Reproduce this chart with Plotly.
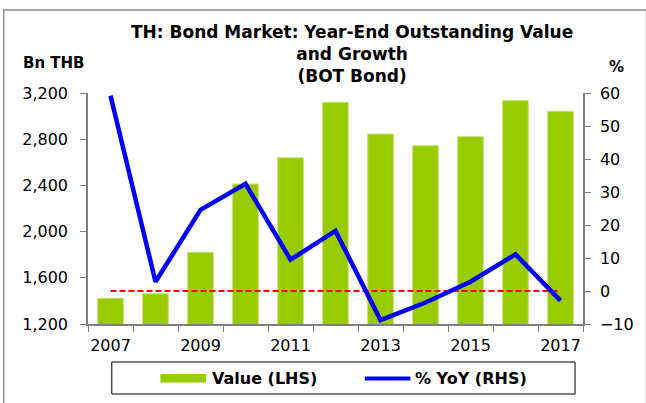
import plotly.graph_objects as go

# Year-end outstanding BOT bonds (Bn THB) and year-on-year growth (%)
years = [2007, 2008, 2009, 2010, 2011, 2012, 2013, 2014, 2015, 2016, 2017]
value_bn_thb = [1423, 1462, 1821, 2412, 2640, 3120, 2845, 2744, 2822, 3134, 3042]
yoy_pct = [59.2, 2.8, 24.6, 32.5, 9.5, 18.2, -8.8, -3.5, 2.8, 11.1, -2.9]
x_tick_labels = ["2007", "2009", "2011", "2013", "2015", "2017"]
left_ticks = [1200, 1600, 2000, 2400, 2800, 3200]
right_ticks = [-10, 0, 10, 20, 30, 40, 50, 60]

W, H = 646, 403
L, R, T, B = 88, 587, 93, 324  # plot area in pixels

def px(x):
    return (x - L) / (R - L)

def py(y):
    return (B - y) / (B - T)

FONT = "DejaVu Sans, Liberation Sans, Arial, sans-serif"
GREEN = "#99CC00"
BLUE = "#0000FF"
AXIS = "#7F7F7F"

fig = go.Figure()

fig.add_trace(go.Bar(
    x=years, y=value_bn_thb, name="Value (LHS)",
    marker=dict(color=GREEN, line=dict(color="#C8E27A", width=1)),
    width=0.57, yaxis="y", showlegend=False,
))

fig.add_trace(go.Scatter(
    x=[years[0], years[-1]], y=[0, 0], mode="lines",
    line=dict(color="#FF0000", width=2, dash="6px,3px"),
    yaxis="y2", showlegend=False, hoverinfo="skip",
))

fig.add_trace(go.Scatter(
    x=years, y=yoy_pct, name="% YoY (RHS)", mode="lines",
    line=dict(color=BLUE, width=4.5),
    yaxis="y2", showlegend=False,
))

fig.update_layout(
    width=W, height=H,
    margin=dict(l=L, r=W - R, t=T, b=H - B),
    paper_bgcolor="white", plot_bgcolor="white",
    font=dict(family=FONT, size=16, color="black"),
    xaxis=dict(
        range=[2006.5, 2017.5], tickvals=[int(t) for t in x_tick_labels],
        ticktext=x_tick_labels, ticks="outside", ticklen=0,
        minor=dict(tickvals=[y - 0.5 for y in years] + [years[-1] + 0.5],
                   ticks="outside", ticklen=6, tickcolor=AXIS),
        showline=True, linecolor=AXIS, linewidth=1.5,
        showgrid=False, zeroline=False, ticklabelstandoff=6,
        tickfont=dict(size=16),
    ),
    yaxis=dict(
        range=[1200, 3200], tickvals=left_ticks, tickformat=",",
        ticks="outside", ticklen=6, tickcolor=AXIS,
        showline=True, linecolor=AXIS, linewidth=1.5,
        showgrid=False, zeroline=False, tickfont=dict(size=16),
        ticklabelstandoff=9,
    ),
    yaxis2=dict(
        range=[-10, 60], tickvals=right_ticks, overlaying="y", side="right",
        ticks="outside", ticklen=6, tickcolor=AXIS,
        showline=True, linecolor=AXIS, linewidth=1.5,
        showgrid=False, zeroline=False, tickfont=dict(size=16),
        ticklabelstandoff=6,
    ),
    bargap=0.43,
)

shapes = [
    # outer frame
    dict(type="rect", xref="paper", yref="paper",
         x0=px(3), x1=px(W + 5), y0=py(H + 5), y1=py(10),
         line=dict(color="#8C8C8C", width=1.5), fillcolor="rgba(0,0,0,0)", layer="below"),
    # legend box
    dict(type="rect", xref="paper", yref="paper",
         x0=px(112), x1=px(579), y0=py(394), y1=py(362),
         line=dict(color="black", width=1), fillcolor="rgba(0,0,0,0)"),
    # legend swatches
    dict(type="rect", xref="paper", yref="paper",
         x0=px(161), x1=px(207), y0=py(382.5), y1=py(374),
         line=dict(width=0), fillcolor=GREEN),
    dict(type="line", xref="paper", yref="paper",
         x0=px(367), x1=px(413), y0=py(378.5), y1=py(378.5),
         line=dict(color=BLUE, width=4)),
]
fig.update_layout(shapes=shapes)

annotations = [
    dict(text="<b>TH: Bond Market: Year-End Outstanding Value<br>and Growth<br>(BOT Bond)</b>",
         x=px(354), y=py(54), xanchor="center", yanchor="middle",
         font=dict(size=17)),
    dict(text="<b>Value (LHS)</b>", x=px(211), y=py(378.5), xanchor="left", yanchor="middle",
         font=dict(size=16)),
    dict(text="<b>% YoY (RHS)</b>", x=px(416), y=py(378.5), xanchor="left", yanchor="middle",
         font=dict(size=16)),
    dict(text="<b>Bn THB</b>", x=px(20), y=py(63), xanchor="left", yanchor="middle",
         font=dict(size=15)),
    dict(text="<b>%</b>", x=px(611), y=py(67), xanchor="left", yanchor="middle",
         font=dict(size=15)),
]
for a in annotations:
    a.update(xref="paper", yref="paper", showarrow=False)
fig.update_layout(annotations=annotations)

fig.write_html("out.html")
